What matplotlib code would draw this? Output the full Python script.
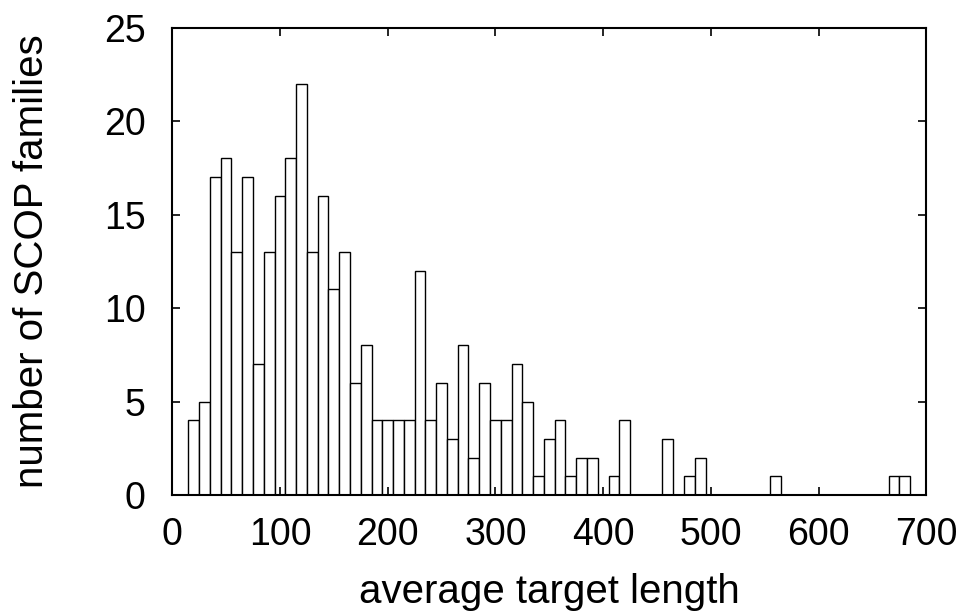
import matplotlib
matplotlib.use("Agg")
import matplotlib.pyplot as plt

# bin centers (average target length) and counts
bin_centers = [20, 30, 40, 50, 60, 70, 80, 90, 100, 110, 120, 130, 140, 150, 160,
               170, 180, 190, 200, 210, 220, 230, 240, 250, 260, 270, 280, 290, 300,
               310, 320, 330, 340, 350, 360, 370, 380, 390, 400, 410, 420,
               460, 480, 490, 560, 670, 680]
counts = [4, 5, 17, 18, 13, 17, 7, 13, 16, 18, 22, 13, 16, 11, 13,
          6, 8, 4, 4, 4, 4, 12, 4, 6, 3, 8, 2, 6, 4,
          4, 7, 5, 1, 3, 4, 1, 2, 2, 0, 1, 4,
          3, 1, 2, 1, 1, 1]
x_ticks = [0, 100, 200, 300, 400, 500, 600, 700]
y_ticks = [0, 5, 10, 15, 20, 25]

plt.rcParams['font.family'] = ['Liberation Sans', 'DejaVu Sans']

fig = plt.figure(figsize=(9.62, 6.12), dpi=100)
ax = fig.add_axes([0.179, 0.191, 0.784, 0.764])

ax.bar(bin_centers, counts, width=10, align='center', facecolor='white',
       edgecolor='black', linewidth=1.0)

ax.set_xlim(0, 700)
ax.set_ylim(0, 25)
ax.set_xticks(x_ticks)
ax.set_yticks(y_ticks)
ax.tick_params(axis='both', direction='in', length=6, width=1.2,
               top=True, right=True, labelsize=27)
ax.tick_params(axis='x', pad=16)
ax.tick_params(axis='y', pad=19)
for s in ax.spines.values():
    s.set_linewidth(1.5)

ax.set_xlabel('average target length', fontsize=29, labelpad=14)
ax.set_ylabel('number of SCOP families', fontsize=29, labelpad=38)

fig.savefig('out.png', dpi=100)
